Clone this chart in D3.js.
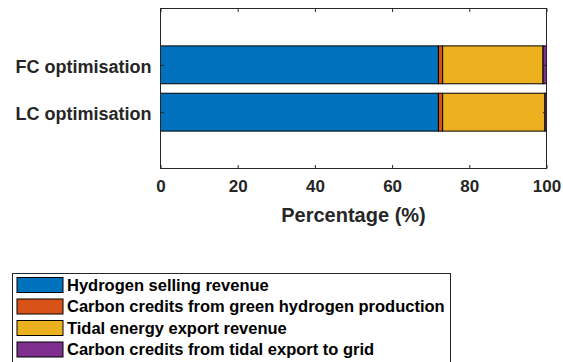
<!DOCTYPE html>
<html>
<head>
<meta charset="utf-8">
<script src="https://cdn.jsdelivr.net/npm/d3@7"></script>
<style>
  html, body { margin: 0; padding: 0; background: #fff; }
  svg { display: block; font-family: "Liberation Sans", Arial, sans-serif; font-weight: bold; }
</style>
</head>
<body>
<svg id="chart" width="563" height="362"></svg>
<script>
// Revenue share (%) for each optimisation case
const categories = ["FC optimisation", "LC optimisation"];
const seriesNames = [
  "Hydrogen selling revenue",
  "Carbon credits from green hydrogen production",
  "Tidal energy export revenue",
  "Carbon credits from tidal export to grid"
];
const hydrogenRevenue   = [72.0, 72.0];
const h2CarbonCredits   = [1.1, 1.1];
const tidalExport       = [26.0, 26.5];
const tidalCarbonCredit = [0.9, 0.4];
const xTicks = [0, 20, 40, 60, 80, 100];
const colors = ["#0072BD", "#D95319", "#EDB120", "#7E2F8E"];

const rows = categories.map((c, i) => ({
  cat: c,
  idx: i + 1,
  s0: hydrogenRevenue[i],
  s1: h2CarbonCredits[i],
  s2: tidalExport[i],
  s3: tidalCarbonCredit[i]
}));
const stack = d3.stack().keys(["s0", "s1", "s2", "s3"])(rows);

const svg = d3.select("#chart");
const plotL = 160.5, plotR = 546.5, plotT = 8.5, plotB = 168.5;
const axisColor = "#262626";

const x = d3.scaleLinear().domain([0, 100]).range([plotL, plotR]);
// category positions 1..2, shown top to bottom
const y = d3.scaleLinear().domain([-0.19, 3.19]).range([plotT, plotB]);
const barH = 0.8;

// stacked bars
stack.forEach((layer, k) => {
  svg.append("g").selectAll("rect").data(layer).join("rect")
    .attr("x", d => x(d[0]))
    .attr("width", d => x(d[1]) - x(d[0]))
    .attr("y", d => y(d.data.idx - barH / 2))
    .attr("height", d => y(d.data.idx + barH / 2) - y(d.data.idx - barH / 2))
    .attr("fill", colors[k])
    .attr("stroke", "#000")
    .attr("stroke-width", 1);
});

// axes box with inward ticks
const tickLen = 3.5;
svg.append("rect")
  .attr("x", plotL).attr("y", plotT)
  .attr("width", plotR - plotL).attr("height", plotB - plotT)
  .attr("fill", "none").attr("stroke", axisColor).attr("stroke-width", 1);

const catScale = d3.scalePoint().domain(categories).range([y(1), y(2)]);
const xb = svg.append("g").attr("transform", `translate(0,${plotB})`)
  .call(d3.axisBottom(x).tickValues(xTicks).tickSizeInner(-tickLen).tickSizeOuter(0).tickPadding(11).tickFormat(d3.format("d")));
const xt = svg.append("g").attr("transform", `translate(0,${plotT})`)
  .call(d3.axisTop(x).tickValues(xTicks).tickSizeInner(-tickLen).tickSizeOuter(0).tickFormat(""));
const yl = svg.append("g").attr("transform", `translate(${plotL},0)`)
  .call(d3.axisLeft(catScale).tickSizeInner(-tickLen).tickSizeOuter(0).tickPadding(9));
const yr = svg.append("g").attr("transform", `translate(${plotR},0)`)
  .call(d3.axisRight(catScale).tickSizeInner(-tickLen).tickSizeOuter(0).tickFormat(""));

[xb, xt, yl, yr].forEach(g => {
  g.select(".domain").remove();
  g.selectAll(".tick line").attr("stroke", axisColor);
  g.selectAll("text").attr("fill", axisColor)
    .attr("font-family", "Liberation Sans, Arial, sans-serif")
    .attr("font-weight", "bold");
});
xb.selectAll("text").attr("font-size", 17).attr("dy", "0.71em");
yl.selectAll("text").attr("font-size", 18).attr("dy", "0.42em");

// x-axis title
svg.append("text")
  .attr("x", (plotL + plotR) / 2).attr("y", 222)
  .attr("text-anchor", "middle")
  .attr("font-size", 20).attr("fill", axisColor)
  .text("Percentage (%)");

// legend
const lg = svg.append("g");
lg.append("rect")
  .attr("x", 12.5).attr("y", 273.5).attr("width", 438).attr("height", 95)
  .attr("fill", "#fff").attr("stroke", axisColor).attr("stroke-width", 1);
seriesNames.forEach((name, i) => {
  const ry = 277.5 + i * 21.5;
  lg.append("rect")
    .attr("x", 17).attr("y", ry).attr("width", 46).attr("height", 15)
    .attr("fill", colors[i]).attr("stroke", "#000").attr("stroke-width", 1);
  lg.append("text")
    .attr("x", 67).attr("y", ry + 13)
    .attr("font-size", 16.5).attr("fill", "#000")
    .text(name);
});
</script>
</body>
</html>
